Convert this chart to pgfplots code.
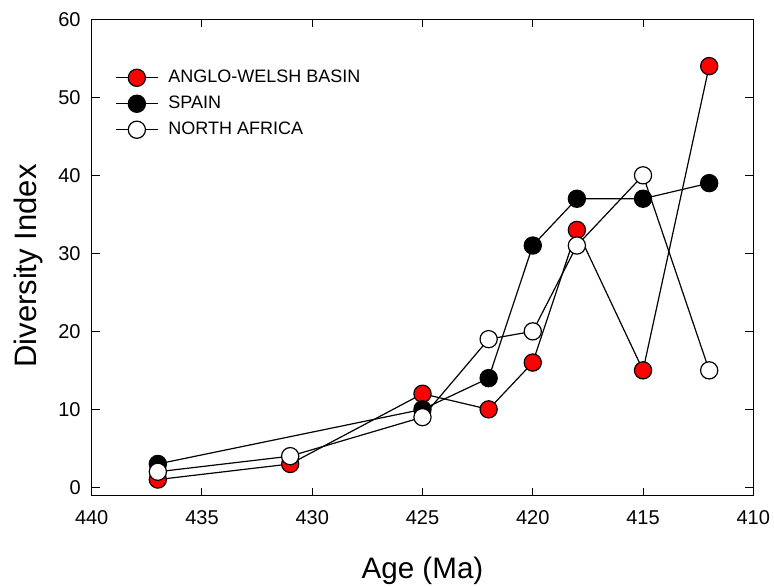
\documentclass[border=0pt]{standalone}
\usepackage{pgfplots}
\pgfplotsset{compat=1.18}
\usepackage{fontspec}
\setmainfont{Liberation Sans}
\begin{document}
\begin{tikzpicture}
\begin{axis}[
  name=ax,
  scale only axis,
  width=330.8pt, height=238.2pt,
  x dir=reverse,
  xmin=410, xmax=440, ymin=-1.07, ymax=60,
  xtick={410,415,...,440}, ytick={0,10,...,60},
  tick align=inside, major tick length=4pt,
  tick style={black, line width=0.5pt},
  axis line style={line width=0.6pt},
  /pgf/number format/assume math mode=true,
  /pgf/number format/1000 sep={},
  tick label style={font=\fontsize{10}{12}\selectfont},
  xticklabel style={yshift=-4pt},
  yticklabel style={xshift=-2pt},
  xlabel={Age (Ma)}, ylabel={Diversity Index},
  xlabel style={font=\fontsize{14.8}{17}\selectfont, yshift=-9pt},
  ylabel style={font=\fontsize{15.5}{18}\selectfont, at={(ticklabel cs:0.482)}, yshift=1pt},
  legend style={draw=none, fill=none, at={(0.032,0.907)}, anchor=north west,
    font=\fontsize{9}{11}\selectfont, row sep=1.2pt, inner sep=1pt},
  legend cell align=left,
  legend image code/.code={%
    \draw[mark repeat=2,mark phase=2] plot coordinates {(0pt,0pt) (10.5pt,0pt) (21pt,0pt)};
    \path (24pt,0pt);},
  every axis plot/.append style={line width=0.6pt, mark=*, mark size=4.3pt,
    mark options={draw=black, line width=0.5pt}},
]
\addplot[black, mark options={fill=red}] coordinates {
(437,1) (431,3) (425,12) (422,10) (420,16) (418,33) (415,15) (412,54)};
\addlegendentry{ANGLO-WELSH BASIN}
\addplot[black, mark options={fill=black}] coordinates {
(437,3) (425,10) (422,14) (420,31) (418,37) (415,37) (412,39)};
\addlegendentry{SPAIN}
\addplot[black, mark options={fill=white}] coordinates {
(437,2) (431,4) (425,9) (422,19) (420,20) (418,31) (415,40) (412,15)};
\addlegendentry{NORTH AFRICA}
\end{axis}
\pgfresetboundingbox
\path ([shift={(-45.85pt,-45.15pt)}]ax.south west) rectangle ([shift={(10.35pt,9.65pt)}]ax.north east);
\end{tikzpicture}
\end{document}
